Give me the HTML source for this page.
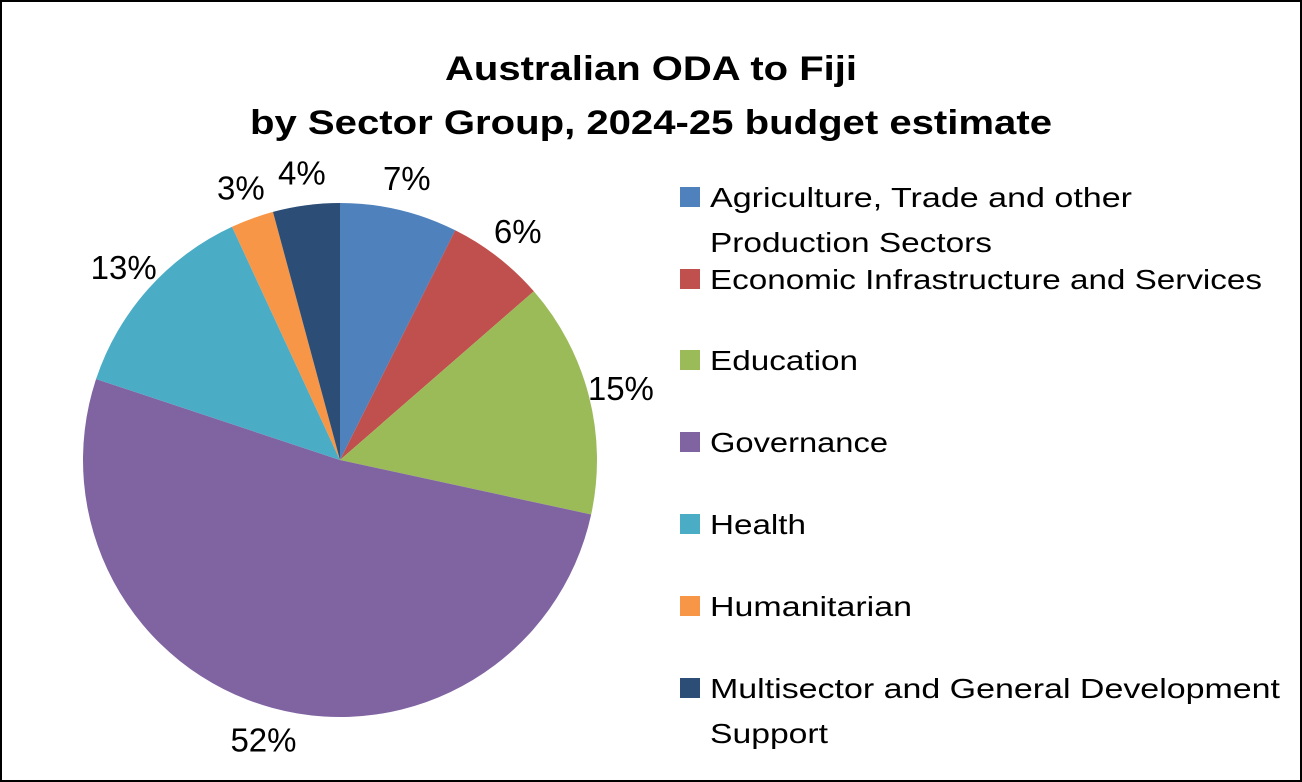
<!DOCTYPE html>
<html><head><meta charset="utf-8"><style>
html,body{margin:0;padding:0;background:#fff}
svg{display:block;font-family:"Liberation Sans",sans-serif}
</style></head><body>
<svg id="chart" width="1302" height="782" viewBox="0 0 1302 782">
<rect x="1" y="1" width="1300" height="780" fill="#fff" stroke="#000" stroke-width="2"/>
<text x="651" y="80" text-anchor="middle" font-size="34" font-weight="bold" textLength="412" lengthAdjust="spacingAndGlyphs">Australian ODA to Fiji</text>
<text x="651" y="134" text-anchor="middle" font-size="34" font-weight="bold" textLength="802" lengthAdjust="spacingAndGlyphs">by Sector Group, 2024-25 budget estimate</text>
<g id="slices"></g>
<g id="labels"></g>
<g id="legend"></g>
</svg>
<script>
const categories = ["Agriculture, Trade and other Production Sectors","Economic Infrastructure and Services","Education","Governance","Health","Humanitarian","Multisector and General Development Support"];
const values = [7.4, 6.2, 14.8, 51.7, 13.0, 2.7, 4.2];
const valueLabels = ["7%","6%","15%","52%","13%","3%","4%"];
const legendLines = [["Agriculture, Trade and other","Production Sectors"],["Economic Infrastructure and Services"],["Education"],["Governance"],["Health"],["Humanitarian"],["Multisector and General Development","Support"]];
const colors = ["#4f81bd","#c0504d","#9bbb59","#8064a2","#4bacc6","#f79646","#2c4d75"];
const NS="http://www.w3.org/2000/svg";
const cx=340, cy=460, r=257, lr=290;
const total=values.reduce((a,b)=>a+b,0);
function pt(a,rad){return [cx+rad*Math.sin(a), cy-rad*Math.cos(a)];}
let acc=0;
const gS=document.getElementById('slices'), gL=document.getElementById('labels'), gG=document.getElementById('legend');
values.forEach((v,i)=>{
  const a0=acc/total*2*Math.PI; acc+=v; const a1=acc/total*2*Math.PI;
  const [x0,y0]=pt(a0,r), [x1,y1]=pt(a1,r);
  const p=document.createElementNS(NS,'path');
  p.setAttribute('d',`M${cx},${cy} L${x0},${y0} A${r},${r} 0 ${a1-a0>Math.PI?1:0} 1 ${x1},${y1} Z`);
  p.setAttribute('fill',colors[i]);
  
  
  gS.appendChild(p);
  const am=(a0+a1)/2; const [lx,ly]=pt(am,lr);
  const t=document.createElementNS(NS,'text');
  t.setAttribute('x',lx); t.setAttribute('y',ly+12);
  t.setAttribute('text-anchor','middle'); t.setAttribute('font-size','33');
  t.textContent=valueLabels[i];
  
  
  gL.appendChild(t);
});
const legendY=[197,360-0,360,442,524,606,688];
const ys=[197,279,360,442,524,606,688];
const widths=[[422,282],[552],[148],[178],[96],[202],[570,118]];
categories.forEach((c,i)=>{
  const g=document.createElementNS(NS,'g');
  
  
  const s=document.createElementNS(NS,'rect');
  s.setAttribute('x',680); s.setAttribute('y',ys[i]-10); s.setAttribute('width',20); s.setAttribute('height',20);
  s.setAttribute('fill',colors[i]);
  
  
  g.appendChild(s);
  legendLines[i].forEach((ln,j)=>{
    const t=document.createElementNS(NS,'text');
    t.setAttribute('x',710); t.setAttribute('y',ys[i]+10+j*45);
    t.setAttribute('font-size','28');
    t.setAttribute('textLength',widths[i][j]); t.setAttribute('lengthAdjust','spacingAndGlyphs');
    t.textContent=ln;
    
    
    g.appendChild(t);
  });
  gG.appendChild(g);
});
</script>
</body></html>
